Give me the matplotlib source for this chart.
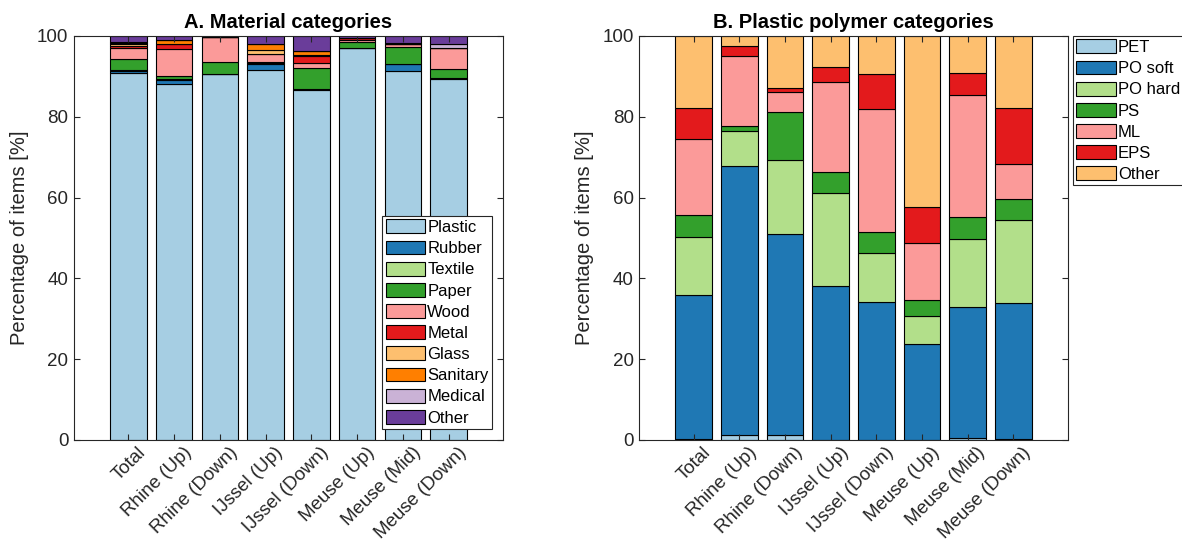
import matplotlib
matplotlib.use('Agg')
import matplotlib.pyplot as plt
import matplotlib.transforms as mtransforms
import numpy as np

plt.rcParams['font.family'] = ['Liberation Sans', 'DejaVu Sans']

# rivers / sites
sites = ["Total", "Rhine (Up)", "Rhine (Down)", "IJssel (Up)", "IJssel (Down)",
         "Meuse (Up)", "Meuse (Mid)", "Meuse (Down)"]

# A. material categories (% of items)
mat_names = ["Plastic", "Rubber", "Textile", "Paper", "Wood", "Metal",
             "Glass", "Sanitary", "Medical", "Other"]
plastic  = [90.8, 88.0, 90.6, 91.6, 86.6, 97.0, 91.4, 89.3]
rubber   = [0.6, 1.2, 0.0, 1.4, 0.3, 0.0, 1.65, 0.4]
textile  = [0.2, 0.2, 0.0, 0.4, 0.0, 0.0, 0.0, 0.0]
paper    = [2.6, 0.7, 2.9, 0.25, 5.2, 1.6, 4.1, 2.2]
wood     = [2.9, 6.6, 6.35, 1.9, 1.2, 0.5, 0.8, 5.2]
metal    = [0.5, 1.2, 0.0, 0.0, 1.65, 0.3, 0.0, 0.0]
glass    = [0.3, 0.2, 0.0, 1.1, 0.25, 0.0, 0.0, 0.0]
sanitary = [0.3, 0.8, 0.0, 1.25, 1.2, 0.0, 0.0, 0.0]
medical  = [0.2, 0.0, 0.0, 0.0, 0.0, 0.0, 0.4, 0.8]
other_m  = [1.6, 1.1, 0.15, 2.1, 3.6, 0.6, 1.65, 2.1]
mat_data = [plastic, rubber, textile, paper, wood, metal, glass, sanitary, medical, other_m]

# B. plastic polymer categories (% of items)
pol_names = ["PET", "PO soft", "PO hard", "PS", "ML", "EPS", "Other"]
pet     = [0.3, 1.3, 1.3, 0.1, 0.1, 0.1, 0.5, 0.3]
po_soft = [35.5, 66.6, 49.8, 38.0, 34.1, 23.6, 32.4, 33.6]
po_hard = [14.5, 8.7, 18.2, 23.1, 12.0, 7.0, 16.8, 20.6]
ps      = [5.4, 1.2, 12.0, 5.2, 5.4, 4.0, 5.6, 5.2]
ml      = [18.9, 17.2, 4.9, 22.1, 30.3, 14.0, 30.0, 8.6]
eps     = [7.5, 2.5, 0.9, 3.9, 8.8, 8.9, 5.6, 13.9]
other_p = [17.9, 2.5, 12.9, 7.6, 9.3, 42.4, 9.1, 17.8]
pol_data = [pet, po_soft, po_hard, ps, ml, eps, other_p]

paired = ["#a6cee3", "#1f78b4", "#b2df8a", "#33a02c", "#fb9a99",
          "#e31a1c", "#fdbf6f", "#ff7f00", "#cab2d6", "#6a3d9a"]

fig = plt.figure(figsize=(11.82, 5.41), dpi=100)
ax1 = fig.add_axes([0.0626, 0.1867, 0.363, 0.7468])
ax2 = fig.add_axes([0.5409, 0.1867, 0.3624, 0.7468])

x = np.arange(1, len(sites) + 1)
# shift rotated labels a bit to the right, like MATLAB does
shift = mtransforms.ScaledTranslation(9 / 100, 0, fig.dpi_scale_trans)


def stacked(ax, data, names, title):
    bottom = np.zeros(len(sites))
    for i, (vals, name) in enumerate(zip(data, names)):
        ax.bar(x, vals, 0.8, bottom=bottom, color=paired[i], edgecolor='black',
               linewidth=0.8, label=name)
        bottom += np.array(vals)
    ax.set_xlim(-0.19, 9.19)
    ax.set_ylim(0, 100)
    ax.set_yticks([0, 20, 40, 60, 80, 100])
    ax.set_xticks(x)
    ax.set_xticklabels(sites, rotation=45, ha='right', va='top',
                       rotation_mode='anchor')
    ax.tick_params(direction='in', length=4, top=True, right=True,
                   labelsize=13.5, color='#262626', labelcolor='#262626', pad=4)
    ax.tick_params(axis='x', pad=3)
    for lab in ax.get_xticklabels():
        lab.set_transform(lab.get_transform() + shift)
    for sp in ax.spines.values():
        sp.set_color('#262626')
        sp.set_linewidth(0.8)
    ax.set_ylabel("Percentage of items [%]", fontsize=14.5, color='#262626',
                  labelpad=6)
    ax.set_title(title, fontsize=14.5, fontweight='bold', pad=6)


stacked(ax1, mat_data, mat_names, "A. Material categories")
stacked(ax2, pol_data, pol_names, "B. Plastic polymer categories")

leg_kw = dict(fontsize=12, handlelength=2.35, handleheight=0.9, handletextpad=0.15,
              labelspacing=0.33, borderpad=0.2, fancybox=False, framealpha=1,
              edgecolor='#262626')
l1 = ax1.legend(loc='lower right', borderaxespad=0.66, **leg_kw)
l1.get_frame().set_linewidth(0.8)
l2 = ax2.legend(loc='upper left', bbox_to_anchor=(1073 / 1182, 1 - 36 / 541),
                bbox_transform=fig.transFigure, borderaxespad=0, **leg_kw)
l2.get_frame().set_linewidth(0.8)

fig.savefig("out.png", dpi=100)
